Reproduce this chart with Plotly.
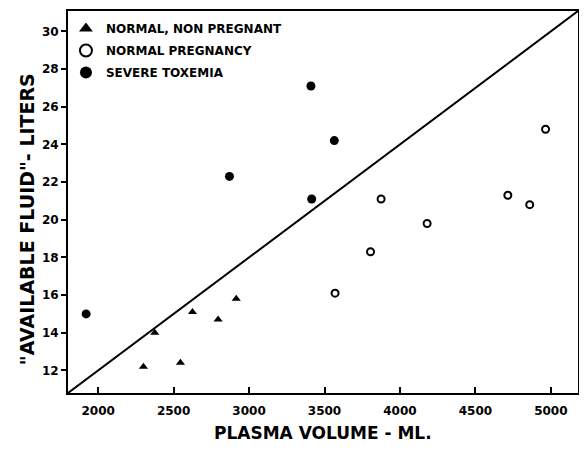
import plotly.graph_objects as go

# Data
nonpreg_x = [2300, 2375, 2545, 2625, 2795, 2915]
nonpreg_y = [12.2, 14.0, 12.4, 15.1, 14.7, 15.8]

preg_x = [3570, 3805, 3875, 4180, 4715, 4860, 4965]
preg_y = [16.1, 18.3, 21.1, 19.8, 21.3, 20.8, 24.8]

tox_x = [1920, 2870, 3410, 3415, 3565]
tox_y = [15.0, 22.3, 27.1, 21.1, 24.2]

ratio = 0.006  # reference line: available fluid (L) = 6 x plasma volume (L)

x_range = [1800, 5180]
y_range = [10.8, 31.08]

x_ticks = [2000, 2500, 3000, 3500, 4000, 4500, 5000]
y_ticks = [12, 14, 16, 18, 20, 22, 24, 26, 28, 30]

x_title = "PLASMA VOLUME - ML."
y_title = '"AVAILABLE FLUID"- LITERS'

FONT = "DejaVu Sans"

fig = go.Figure()

fig.add_trace(go.Scatter(
    x=x_range, y=[v * ratio for v in x_range], mode="lines",
    line=dict(color="black", width=2), showlegend=False, hoverinfo="skip"))

fig.add_trace(go.Scatter(
    x=nonpreg_x, y=nonpreg_y, mode="markers", name="NORMAL, NON PREGNANT",
    legendgroup="a",
    marker=dict(symbol="triangle-up", size=8, color="black")))
fig.add_trace(go.Scatter(
    x=preg_x, y=preg_y, mode="markers", name="NORMAL PREGNANCY",
    legendgroup="b",
    marker=dict(symbol="circle-open", size=7, color="black", line=dict(width=2))))
fig.add_trace(go.Scatter(
    x=tox_x, y=tox_y, mode="markers", name="SEVERE TOXEMIA",
    legendgroup="c",
    marker=dict(symbol="circle", size=9, color="black")))

fig.update_layout(
    width=576, height=435,
    margin=dict(l=60, r=6, t=3, b=50),
    paper_bgcolor="white", plot_bgcolor="white",
    font=dict(family=FONT, color="black"),
    legend=dict(x=-0.004, y=0.992, xanchor="left", yanchor="top",
                bgcolor="rgba(0,0,0,0)", font=dict(size=12, family=FONT, weight="bold"),
                itemsizing="constant", tracegroupgap=3),
    xaxis=dict(range=x_range, tickvals=x_ticks, ticks="inside", ticklen=6, tickwidth=2,
               tickcolor="black", showline=True, linewidth=2, linecolor="black", mirror=True,
               showgrid=False, zeroline=False, automargin=False, ticklabelstandoff=6,
               tickfont=dict(size=12, weight="bold")),
    yaxis=dict(range=y_range, tickvals=y_ticks, ticks="outside", ticklen=5, tickwidth=2,
               tickcolor="black", showline=True, linewidth=2, linecolor="black", mirror=True,
               showgrid=False, zeroline=False, automargin=False,
               tickfont=dict(size=12, weight="bold")),
    annotations=[
        dict(text=x_title, xref="paper", yref="paper", x=0.5, y=-0.105,
             xanchor="center", yanchor="middle", showarrow=False,
             font=dict(size=17, weight="bold")),
        dict(text=y_title, xref="paper", yref="paper", x=-0.08, y=0.4555,
             xanchor="center", yanchor="middle", showarrow=False, textangle=-90,
             font=dict(size=19, weight="bold")),
    ],
)

fig.write_html("out.html")
